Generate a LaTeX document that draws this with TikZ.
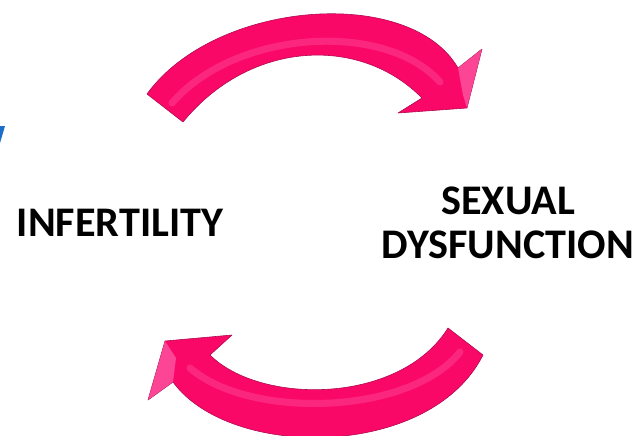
\documentclass[tikz,border=0pt]{standalone}
\usepackage{fontspec}
\setmainfont{Carlito}
\usepackage{tikz}
\usetikzlibrary{positioning}
\definecolor{arrowpink}{RGB}{250,8,104}
\definecolor{arrowdark}{RGB}{175,10,80}
\definecolor{arrowlight}{RGB}{255,110,180}
\definecolor{slideblue}{RGB}{30,110,200}

\begin{document}
\begin{tikzpicture}[x=0.03cm,y=-0.03cm,
  word/.style={font=\fontsize{36}{38}\selectfont\bfseries,align=center,inner sep=0pt},
  bigarrow/.style={fill=arrowpink,draw=arrowdark,line width=0.5pt,line join=round},
  shine/.style={draw=arrowlight,line width=6pt,opacity=0.3,line cap=round},
  facet/.style={fill=arrowlight,opacity=0.6}]
  \useasboundingbox (0,0) rectangle (639,435);
  % edge of a cut-off shape at the left
  \fill[slideblue] (0,126) -- (5,126) -- (0,143) -- cycle;
  % upper arrow, left to right
  \draw[bigarrow] (147,94) .. controls (215,0) and (410,-15) .. (458,68)
    -- (482,49) -- (467,108) -- (398,113) -- (422,98)
    .. controls (360,35) and (250,40) .. (183,122) -- cycle;
  \draw[shine] (172,103) .. controls (235,30) and (385,20) .. (440,82);
  \fill[facet] (458,68) -- (482,49) -- (467,108) -- (463,95) -- cycle;
  % lower arrow, right to left
  \draw[bigarrow] (483,355) .. controls (430,460) and (230,460) .. (173,382)
    -- (148,400) -- (165,341) -- (232,335) -- (210,355)
    .. controls (260,405) and (400,405) .. (448,328) -- cycle;
  \draw[shine] (460,352) .. controls (410,415) and (250,420) .. (190,368);
  \fill[facet] (173,382) -- (148,400) -- (165,341) -- (176,358) -- cycle;
  % labels
  \node[word] (infert) at (120,223) {INFERTILITY};
  \node[word] (sexdys) at (508,223) {SEXUAL\\DYSFUNCTION};
\end{tikzpicture}
\end{document}
